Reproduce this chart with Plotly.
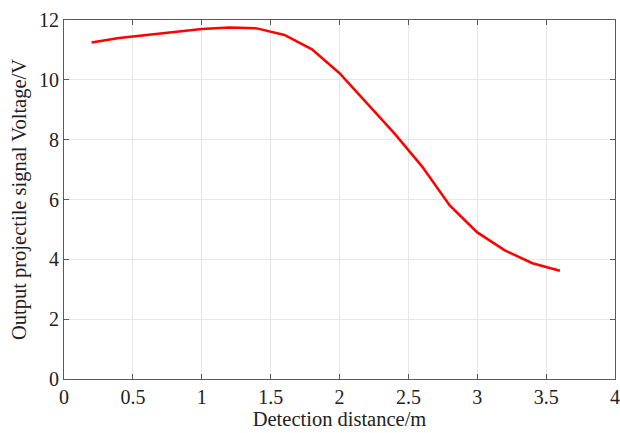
import plotly.graph_objects as go

distance = [0.2, 0.4, 0.6, 0.8, 1.0, 1.2, 1.4, 1.6, 1.8, 2.0, 2.2, 2.4, 2.6, 2.8, 3.0, 3.2, 3.4, 3.6]
voltage = [11.25, 11.4, 11.5, 11.6, 11.7, 11.75, 11.72, 11.5, 11.02, 10.22, 9.2, 8.2, 7.1, 5.8, 4.9, 4.3, 3.87, 3.62]
x_ticks = [0, 0.5, 1, 1.5, 2, 2.5, 3, 3.5, 4]
x_tick_text = ["0", "0.5", "1", "1.5", "2", "2.5", "3", "3.5", "4"]
y_ticks = [0, 2, 4, 6, 8, 10, 12]

serif = "Liberation Serif, Times New Roman, serif"

fig = go.Figure()
fig.add_trace(go.Scatter(x=distance, y=voltage, mode="lines",
                         line=dict(color="#ff0000", width=2.5), showlegend=False))

axis_common = dict(
    showline=True, linecolor="#5a5a5a", linewidth=1, mirror="ticks",
    ticks="inside", ticklen=5, tickcolor="#5a5a5a", tickwidth=1,
    showgrid=True, gridcolor="#e6e6e6", gridwidth=1, zeroline=False,
    automargin=False,
    tickfont=dict(family=serif, size=20, color="#222222"),
)
fig.update_xaxes(range=[0, 4], tickvals=x_ticks, ticktext=x_tick_text,
                 title=dict(text="Detection distance/m", standoff=4,
                            font=dict(family=serif, size=20.5, color="#222222")),
                 **axis_common)
fig.update_yaxes(range=[0, 12], tickvals=y_ticks,
                 title=dict(text="Output projectile signal Voltage/V", standoff=6,
                            font=dict(family=serif, size=20.5, color="#222222")),
                 **axis_common)
fig.update_layout(width=620, height=433, margin=dict(l=64, r=5, t=20, b=54),
                  plot_bgcolor="white", paper_bgcolor="white")
fig.write_html("out.html")
